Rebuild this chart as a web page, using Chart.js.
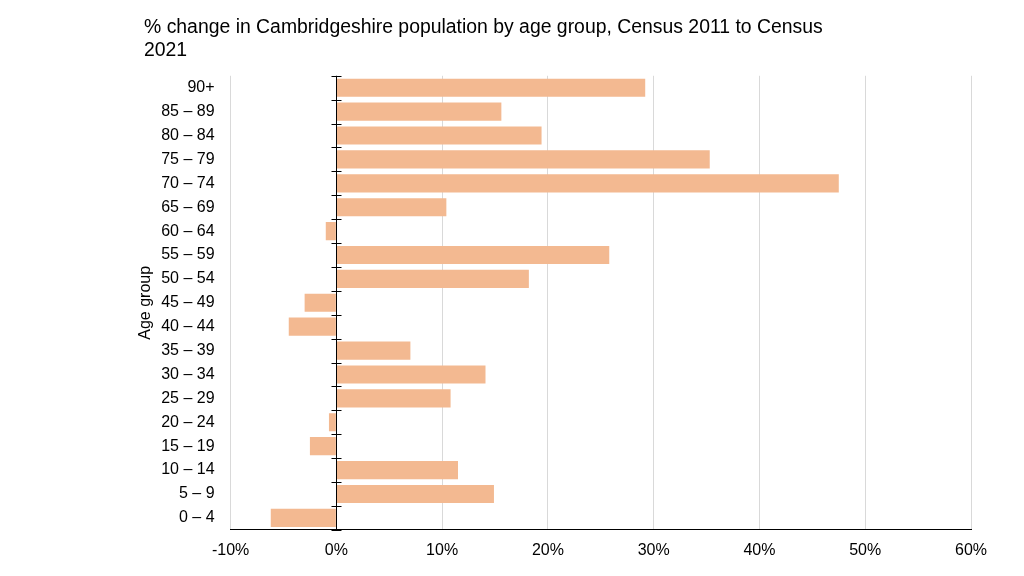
<!DOCTYPE html>
<html>
<head>
<meta charset="utf-8">
<script src="https://cdn.jsdelivr.net/npm/chart.js@4/dist/chart.umd.min.js"></script>
<style>
  html, body { margin: 0; padding: 0; background: #fff; }
  #wrap { width: 1024px; height: 576px; }
</style>
</head>
<body>
<div id="wrap"><canvas id="myChart"></canvas></div>
<script>
// age groups, top to bottom as in the picture
const ageGroups = ['90+', '85 – 89', '80 – 84', '75 – 79', '70 – 74', '65 – 69', '60 – 64',
    '55 – 59', '50 – 54', '45 – 49', '40 – 44', '35 – 39', '30 – 34', '25 – 29',
    '20 – 24', '15 – 19', '10 – 14', '5 – 9', '0 – 4'];
// % change 2011 -> 2021
const pctChange = [29.2, 15.6, 19.4, 35.3, 47.5, 10.4, -1.0,
    25.8, 18.2, -3.0, -4.5, 7.0, 14.1, 10.8,
    -0.7, -2.5, 11.5, 14.9, -6.2];
const xMin = -10;
const xMax = 60;
const xStep = 10;
const titleLines = ['% change in Cambridgeshire population by age group, Census 2011 to Census', '2021'];

Chart.defaults.font.family = '"Liberation Sans", Arial, sans-serif';
Chart.defaults.color = '#000';

// black axis line at 0% with tick marks between the age groups
const zeroAxis = {
    id: 'zeroAxis',
    afterDatasetsDraw(chart) {
        const x = chart.scales.x;
        const y = chart.scales.y;
        const area = chart.chartArea;
        const x0 = Math.round(x.getPixelForValue(0)) + 0.5;
        const step = y.getPixelForValue(1) - y.getPixelForValue(0);
        const c = chart.ctx;
        c.save();
        c.strokeStyle = '#000';
        c.lineWidth = 1;
        c.beginPath();
        c.moveTo(x0, area.top);
        c.lineTo(x0, area.bottom);
        for (let i = 0; i <= ageGroups.length; i++) {
            const yy = Math.round(y.getPixelForValue(i) - step / 2) + 0.5;
            c.moveTo(x0 - 5, yy);
            c.lineTo(x0 + 5, yy);
        }
        c.stroke();
        c.restore();
    }
};

var myChart = new Chart(document.getElementById('myChart'), {
    type: 'bar',
    data: {
        labels: ageGroups,
        datasets: [{
            label: '% change',
            data: pctChange,
            backgroundColor: 'rgb(243,185,145)',
            borderWidth: 0,
            barPercentage: 0.76,
            categoryPercentage: 1.0
        }]
    },
    options: {
        indexAxis: 'y',
        responsive: true,
        maintainAspectRatio: false,
        animation: false,
        layout: { padding: { left: 144, right: 53, top: 8, bottom: 5 } },
        plugins: {
            legend: { display: false },
            tooltip: { enabled: false },
            title: {
                display: true,
                text: titleLines,
                align: 'start',
                color: '#000',
                font: { size: 19.4, weight: 'normal', lineHeight: 1.18 },
                padding: { top: 8, bottom: 14 }
            }
        },
        scales: {
            x: {
                min: xMin,
                max: xMax,
                ticks: {
                    stepSize: xStep,
                    font: { size: 16 },
                    padding: 11,
                    callback: v => v + '%'
                },
                grid: { color: '#d9d9d9', drawTicks: false },
                border: { display: true, color: '#000' }
            },
            y: {
                ticks: { font: { size: 16 }, padding: 8 },
                grid: { display: false },
                border: { display: false },
                title: {
                    display: true,
                    text: 'Age group',
                    font: { size: 16 },
                    padding: { top: -8, bottom: -2 }
                }
            }
        }
    },
    plugins: [zeroAxis]
});
</script>
</body>
</html>
